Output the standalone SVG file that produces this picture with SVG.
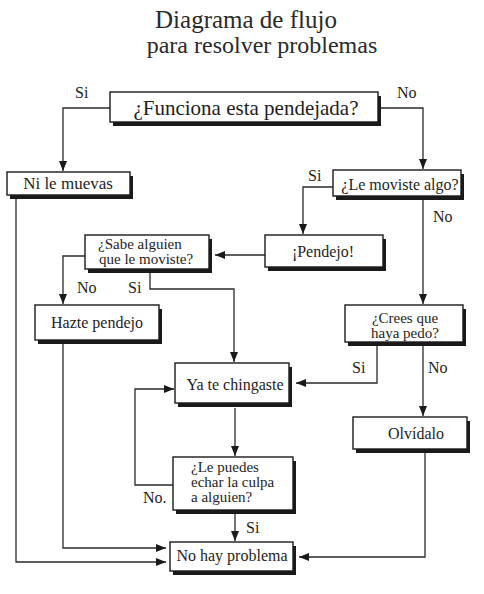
<svg xmlns="http://www.w3.org/2000/svg" width="484" height="594" viewBox="0 0 484 594">
<style>
.sh{fill:#1a1a1a}
.bx{fill:#ffffff;stroke:#1a1a1a;stroke-width:1.4}
.t{font-family:'Liberation Serif','DejaVu Serif','Times New Roman',serif;font-size:16px;fill:#1e1e1e}
.m{font-size:15px}
.c{text-anchor:middle}
.ttl{font-family:'Liberation Serif','DejaVu Serif','Times New Roman',serif;font-size:24px;fill:#2a2a2a;text-anchor:middle}
.ln{fill:none;stroke:#2a2a2a;stroke-width:1.3}
</style>
<defs>
<marker id="ar" markerUnits="userSpaceOnUse" markerWidth="10" markerHeight="10" viewBox="0 0 10 10" refX="10" refY="5" orient="auto">
<path d="M0,1 L10,5 L0,9 z" fill="#1a1a1a"/>
</marker>
</defs>
<rect width="484" height="594" fill="#ffffff"/>
<g id="title">
<text class="ttl" x="246" y="28" style="font-size:25px">Diagrama de flujo</text>
<text class="ttl" x="262" y="53">para resolver problemas</text>
</g>
<g id="connectors">
<polyline class="ln" points="110,108 63,108 63,171" marker-end="url(#ar)"/>
<polyline class="ln" points="378,108 423,108 423,169" marker-end="url(#ar)"/>
<polyline class="ln" points="333,187 303,187 303,234" marker-end="url(#ar)"/>
<polyline class="ln" points="423,199 423,304" marker-end="url(#ar)"/>
<polyline class="ln" points="265,255 215,255" marker-end="url(#ar)"/>
<polyline class="ln" points="85,256 63,256 63,304" marker-end="url(#ar)"/>
<polyline class="ln" points="150,273 150,289 234,289 234,362" marker-end="url(#ar)"/>
<polyline class="ln" points="377,346 377,383 296,383" marker-end="url(#ar)"/>
<polyline class="ln" points="423,346 423,416" marker-end="url(#ar)"/>
<polyline class="ln" points="235,408 235,456" marker-end="url(#ar)"/>
<polyline class="ln" points="173,485 135,485 135,389 174,389" marker-end="url(#ar)"/>
<polyline class="ln" points="235,514 235,541" marker-end="url(#ar)"/>
<polyline class="ln" points="425,453 425,557 299,557" marker-end="url(#ar)"/>
<polyline class="ln" points="63,343 63,548 166,548" marker-end="url(#ar)"/>
<polyline class="ln" points="16,199 16,562 166,562" marker-end="url(#ar)"/>
<text class="t" x="75" y="98">Si</text>
<text class="t" x="397" y="98">No</text>
<text class="t" x="308" y="181">Si</text>
<text class="t" x="433" y="222">No</text>
<text class="t" x="77" y="293">No</text>
<text class="t" x="128" y="293">Si</text>
<text class="t" x="352" y="373">Si</text>
<text class="t" x="428" y="373">No</text>
<text class="t" x="143" y="503">No.</text>
<text class="t" x="246" y="533">Si</text>
</g>
<g id="n1">
<rect class="sh" x="113" y="96" width="268" height="30"/>
<rect class="bx" x="110" y="92" width="268" height="30"/>
<text class="t c" x="246" y="115" style="font-size:21px">¿Funciona esta pendejada?</text>
</g>
<g id="n2">
<rect class="sh" x="10" y="176" width="123" height="23"/>
<rect class="bx" x="7" y="172" width="123" height="23"/>
<text class="t c" x="68" y="189" style="font-size:17px">Ni le muevas</text>
</g>
<g id="n3">
<rect class="sh" x="336" y="174" width="128" height="26"/>
<rect class="bx" x="333" y="170" width="128" height="26"/>
<text class="t c" x="400" y="190">¿Le moviste algo?</text>
</g>
<g id="n4">
<rect class="sh" x="268" y="239" width="118" height="32"/>
<rect class="bx" x="265" y="235" width="118" height="32"/>
<text class="t c" x="323" y="257">¡Pendejo!</text>
</g>
<g id="n5">
<rect class="sh" x="88" y="239" width="124" height="34"/>
<rect class="bx" x="85" y="235" width="124" height="34"/>
<text class="t m" x="98" y="249">¿Sabe alguien</text>
<text class="t m" x="99" y="264">que le moviste?</text>
</g>
<g id="n6">
<rect class="sh" x="38" y="309" width="124" height="35"/>
<rect class="bx" x="35" y="305" width="124" height="35"/>
<text class="t c" x="97" y="328">Hazte pendejo</text>
</g>
<g id="n7">
<rect class="sh" x="348" y="309" width="118" height="37"/>
<rect class="bx" x="345" y="305" width="118" height="37"/>
<text class="t m c" x="405" y="323">¿Crees que</text>
<text class="t m c" x="405" y="338">haya pedo?</text>
</g>
<g id="n8">
<rect class="sh" x="178" y="367" width="114" height="40"/>
<rect class="bx" x="175" y="363" width="114" height="40"/>
<text class="t c" x="235" y="390">Ya te chingaste</text>
</g>
<g id="n9">
<rect class="sh" x="356" y="421" width="114" height="32"/>
<rect class="bx" x="353" y="417" width="114" height="32"/>
<text class="t c" x="416" y="439">Olvídalo</text>
</g>
<g id="n10">
<rect class="sh" x="176" y="461" width="120" height="53"/>
<rect class="bx" x="173" y="457" width="120" height="53"/>
<text class="t m" x="191" y="472">¿Le puedes</text>
<text class="t m" x="191" y="487">echar la culpa</text>
<text class="t m" x="191" y="502">a alguien?</text>
</g>
<g id="n11">
<rect class="sh" x="173" y="546" width="123" height="29"/>
<rect class="bx" x="170" y="542" width="123" height="29"/>
<text class="t c" x="232" y="561">No hay problema</text>
</g>
</svg>
